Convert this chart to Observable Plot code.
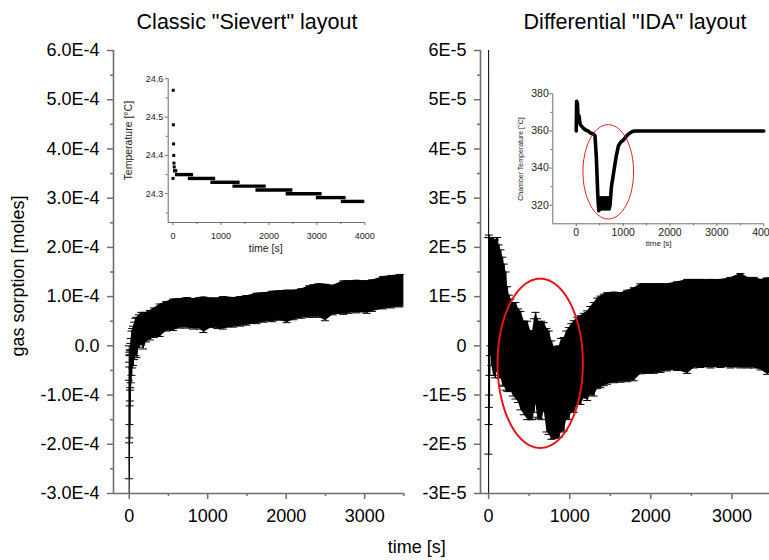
<!DOCTYPE html>
<html><head><meta charset="utf-8">
<script src="https://cdn.jsdelivr.net/npm/d3@7"></script>
<script src="https://cdn.jsdelivr.net/npm/@observablehq/plot@0.6"></script>
<style>
html,body{margin:0;padding:0;background:#fff;overflow:hidden}
#chart{position:relative;width:769px;height:560px;overflow:hidden;background:#fff;font-family:"Liberation Sans",Arial,sans-serif}
</style></head><body><div id="chart"></div>
<script>
// ---------- Data: classic "Sievert" layout (gas sorption, units of 1E-4 moles) ----------
const sievertTime  = [0,2,4,6,8,10,12,14,17,20,25,35,45,55,70,85,100,130,160,183,220,268,320,395,480,565,650,740,820,906,950,1050,1130,1200,1331,1420,1500,1629,1720,1830,1920,2012,2100,2200,2300,2352,2420,2500,2600,2734,2800,2900,3032,3100,3244,3350,3457,3500];
const sievertValue = [-1.6,-1.7,-1.3,-1.2,-1.0,-0.9,-0.7,-0.6,-0.5,-0.4,-0.3,-0.15,-0.05,0.0,0.1,0.18,0.17,0.3,0.35,0.29,0.38,0.42,0.47,0.52,0.6,0.63,0.66,0.67,0.65,0.66,0.63,0.67,0.66,0.67,0.68,0.7,0.72,0.76,0.78,0.8,0.82,0.8,0.83,0.86,0.9,0.91,0.92,0.88,0.93,0.98,0.99,1.0,0.99,1.02,1.08,1.1,1.12,1.13];
const sievertError = [1.6,1.0,0.97,0.77,0.87,0.7,0.52,0.52,0.4,0.45,0.45,0.45,0.4,0.4,0.38,0.38,0.41,0.33,0.33,0.355,0.3,0.3,0.3,0.33,0.3,0.32,0.3,0.31,0.31,0.32,0.36,0.3,0.31,0.33,0.3,0.3,0.3,0.31,0.3,0.31,0.3,0.33,0.3,0.3,0.32,0.33,0.34,0.37,0.3,0.34,0.33,0.33,0.33,0.32,0.33,0.33,0.33,0.32];

// ---------- Data: differential "IDA" layout (gas sorption, units of 1E-5 moles) ----------
const idaTime  = [0,3,6,9,12,16,22,28,40,60,85,111,130,152,175,193,215,234,255,275,305,337,370,398,440,481,520,543,565,583,604,624,655,686,720,747,780,809,840,871,900,932,963,994,1025,1056,1100,1138,1180,1221,1260,1302,1345,1385,1425,1467,1550,1631,1715,1796,1878,1960,2042,2125,2207,2330,2454,2536,2618,2740,2864,2990,3111,3200,3275,3360,3440,3500];
const idaValue = [1.5,0,0.3,0.5,0.6,0.8,1.0,1.1,0.9,0.8,0.75,0.85,0.7,0.65,0.5,0.42,0.3,0.14,0.05,0.02,-0.07,-0.1,-0.2,-0.3,-0.45,-0.5,-0.6,-0.6,-0.4,-0.25,-0.45,-0.5,-0.5,-0.43,-0.7,-0.75,-0.9,-0.95,-0.95,-0.93,-0.8,-0.78,-0.6,-0.56,-0.45,-0.42,-0.3,-0.29,-0.2,-0.2,-0.1,-0.07,0.05,0.08,0.12,0.15,0.17,0.17,0.2,0.235,0.345,0.35,0.35,0.36,0.375,0.4,0.395,0.45,0.455,0.45,0.455,0.47,0.51,0.47,0.47,0.43,0.4,0.42];
const idaError = [4.6,2.2,1.9,1.75,1.6,1.4,1.2,1.1,1.3,1.4,1.4,1.35,1.35,1.3,1.3,1.24,1.2,1.06,0.98,0.93,0.95,0.98,0.95,1.0,0.95,1.0,0.9,0.9,0.95,0.93,1.0,0.98,1.0,0.9,1.05,1.05,1.0,0.93,0.92,0.93,0.95,0.95,0.9,0.93,0.9,0.93,0.88,0.9,0.86,0.91,0.9,0.95,0.92,0.93,0.93,0.93,0.92,0.91,0.93,0.945,0.915,0.91,0.91,0.9,0.885,0.9,0.955,0.9,0.895,0.9,0.895,0.92,0.96,0.92,0.92,0.92,0.98,0.95];

// ---------- Inset data: Sievert temperature ----------
const sievertTempPointTime  = [0,5,8,12,15,20,25];
const sievertTempPointValue = [24.34,24.57,24.48,24.43,24.40,24.38,24.37];
const sievertTempBandStart = [10,50,320,790,1250,1730,2360,2990,3510];
const sievertTempBandEnd   = [100,430,890,1400,1945,2500,3110,3610,4000];
const sievertTempBandValue = [24.36,24.35,24.34,24.33,24.32,24.31,24.30,24.29,24.28];

// ---------- Inset data: IDA chamber temperature ----------
const chamberTime = [0,8,25,40,60,80,100,150,200,250,300,350,400,430,460,480,500,520,540,560,580,600,620,640,660,680,700,720,750,800,850,900,950,1000,1050,1100,1150,1200,1250,1300,1500,2000,2500,3000,3500,4000];
const chamberTemp = [360,376,375,366,368,364,363,361.5,360.5,360,359,358.5,357.5,345,325,317,318,324,318,324,318,324,318,324,318,324,318,320,330,338,346,352,354,355,356.5,358,359,359.7,360,360,360,360,360,360,360,360];

// ---------- Highlight ellipses (center, radii in data units) ----------
const idaEllipseCenter = [636, -0.355];
const idaEllipseRadius = [526, 1.72];
const chamberEllipseCenter = [683, 338];
const chamberEllipseRadius = [540, 25.4];

// ---------- Ticks ----------
const sievertYTicks  = [-3,-2,-1,0,1,2,3,4,5,6];
const sievertYLabels = ["-3.0E-4","-2.0E-4","-1.0E-4","0.0","1.0E-4","2.0E-4","3.0E-4","4.0E-4","5.0E-4","6.0E-4"];
const sievertYMinor  = [-2.5,-1.5,-0.5,0.5,1.5,2.5,3.5,4.5,5.5];
const idaYTicks  = [-3,-2,-1,0,1,2,3,4,5,6];
const idaYLabels = ["-3E-5","-2E-5","-1E-5","0","1E-5","2E-5","3E-5","4E-5","5E-5","6E-5"];
const idaYMinor  = [-2.5,-1.5,-0.5,0.5,1.5,2.5,3.5,4.5,5.5];
const mainXTicks  = [0,1000,2000,3000];
const mainXLabels = ["0","1000","2000","3000"];
const mainXMinor  = [500,1500,2500,3500];
const insetXTicks  = [0,1000,2000,3000,4000];
const insetXLabels = ["0","1000","2000","3000","4000"];
const insetXMinor  = [500,1500,2500,3500];
const sievertTempTicks  = [24.3,24.4,24.5,24.6];
const sievertTempLabels = ["24.3","24.4","24.5","24.6"];
const sievertTempMinor  = [24.25,24.35,24.45,24.55];
const chamberTicks  = [320,340,360,380];
const chamberLabels = ["320","340","360","380"];
const chamberMinor  = [330,350,370];

// ---------- Texts ----------
const titles = ['Classic "Sievert" layout', 'Differential "IDA" layout'];
const yTitle = "gas sorption [moles]";
const xTitle = "time [s]";
const insetXTitle = "time [s]";
const sievertInsetYTitle = "Temperature [°C]";
const chamberInsetYTitle = "Chamber Temperature [°C]";

// ---------- Build ----------
const FONT = '"Liberation Sans", Arial, sans-serif';
const AXIS = "#6e6e6e";
const chart = document.getElementById("chart");
const fmt = (ticks, labels) => d => labels[ticks.indexOf(d)];
function place(svg, left, top) {
  svg.style.position = "absolute";
  svg.style.left = left + "px";
  svg.style.top = top + "px";
  svg.style.background = "transparent";
  svg.style.maxWidth = "none";
  svg.style.overflow = "visible";
  chart.appendChild(svg);
}
function ellipse(c, r) {
  return d3.range(0, 361, 3).map(a => ({x: c[0] + r[0] * Math.cos(a * Math.PI / 180), y: c[1] + r[1] * Math.sin(a * Math.PI / 180)}));
}
const toBars = (T, V, E) => T.map((t, i) => ({t, v: V[i], lo: V[i] - E[i], hi: V[i] + E[i]}));

function errorMarks(data) {
  return [
    Plot.areaY(data, {x: "t", y1: "lo", y2: "hi", fill: "black", clip: true}),
    Plot.ruleX(data, {x: "t", y1: "lo", y2: "hi", stroke: "black", strokeWidth: 1, clip: true}),
    Plot.ruleY(data, {y: "hi", x1: "t", x2: "t", insetLeft: -4, insetRight: -4, stroke: "black", strokeWidth: 1, clip: true}),
    Plot.ruleY(data, {y: "lo", x1: "t", x2: "t", insetLeft: -4, insetRight: -4, stroke: "black", strokeWidth: 1, clip: true})
  ];
}
function mainAxes(yT, yL, yM, xmin, ymin) {
  return [
    Plot.axisY(yT, {tickFormat: fmt(yT, yL), tickSize: 6, tickPadding: 8, fontSize: 18, stroke: AXIS, strokeWidth: 1.5, color: "black", label: null}),
    Plot.axisY(yM, {tickSize: 3, fill: "none", stroke: AXIS, strokeWidth: 1.5, label: null}),
    Plot.axisX(mainXTicks, {tickFormat: fmt(mainXTicks, mainXLabels), tickSize: 6, tickPadding: 10, fontSize: 18, stroke: AXIS, strokeWidth: 1.5, color: "black", label: null}),
    Plot.axisX(mainXMinor, {tickSize: 3, fill: "none", stroke: AXIS, strokeWidth: 1.5, label: null}),
    Plot.ruleX([xmin], {stroke: AXIS, strokeWidth: 1.6}),
    Plot.ruleY([ymin], {stroke: AXIS, strokeWidth: 1.6})
  ];
}

// Left main panel
place(Plot.plot({
  width: 420, height: 540, marginLeft: 113, marginRight: 16.6, marginTop: 50, marginBottom: 47,
  x: {domain: [-200, 3500]}, y: {domain: [-3, 6]},
  style: {fontFamily: FONT, color: "black"},
  marks: [
    ...errorMarks(toBars(sievertTime, sievertValue, sievertError)),
    ...mainAxes(sievertYTicks, sievertYLabels, sievertYMinor, -200, -3)
  ]
}), 0, 0);

// Right main panel
place(Plot.plot({
  width: 390, height: 540, marginLeft: 80, marginRight: 18, marginTop: 50, marginBottom: 47,
  x: {domain: [-100, 3500]}, y: {domain: [-3, 6]},
  style: {fontFamily: FONT, color: "black"},
  marks: [
    ...errorMarks(toBars(idaTime, idaValue, idaError)),
    Plot.line(ellipse(idaEllipseCenter, idaEllipseRadius), {x: "x", y: "y", stroke: "#e8141c", strokeWidth: 2}),
    ...mainAxes(idaYTicks, idaYLabels, idaYMinor, -100, -3)
  ]
}), 400, 0);

// Left inset
const sievertPts = sievertTempPointTime.map((t, i) => ({t, v: sievertTempPointValue[i]}));
const sievertBands = sievertTempBandStart.map((s, i) => ({s, e: sievertTempBandEnd[i], v: sievertTempBandValue[i]}));
place(Plot.plot({
  width: 260, height: 200, marginLeft: 47.7, marginRight: 15.7, marginTop: 18.3, marginBottom: 38,
  x: {domain: [-100, 4000]}, y: {domain: [24.225, 24.6]},
  style: {fontFamily: FONT, color: "black"},
  marks: [
    Plot.ruleY(sievertBands, {y: "v", x1: "s", x2: "e", stroke: "black", strokeWidth: 3.4}),
    Plot.dot(sievertPts, {x: "t", y: "v", symbol: "square", r: 1.7, fill: "black", stroke: "none"}),
    Plot.axisY(sievertTempTicks, {tickFormat: fmt(sievertTempTicks, sievertTempLabels), tickSize: 3, tickPadding: 2, fontSize: 9, stroke: AXIS, color: "#222", label: null}),
    Plot.axisY(sievertTempMinor, {tickSize: 2, fill: "none", stroke: AXIS, label: null}),
    Plot.axisX(insetXTicks, {tickFormat: fmt(insetXTicks, insetXLabels), tickSize: 3, tickPadding: 7, fontSize: 9, stroke: AXIS, color: "#222", label: null}),
    Plot.axisX(insetXMinor, {tickSize: 2, fill: "none", stroke: AXIS, label: null}),
    Plot.ruleX([-100], {stroke: AXIS}),
    Plot.ruleY([24.225], {stroke: AXIS})
  ]
}), 120, 60);

// Right inset
const chamber = chamberTime.map((t, i) => ({t, v: chamberTemp[i]}));
place(Plot.plot({
  width: 280, height: 190, marginLeft: 52.3, marginRight: 16.7, marginTop: 23.3, marginBottom: 36.7,
  x: {domain: [-500, 4000]}, y: {domain: [310, 380]},
  style: {fontFamily: FONT, color: "black"},
  marks: [
    Plot.line(chamber, {x: "t", y: "v", stroke: "black", strokeWidth: 3.6, strokeLinejoin: "round"}),
    Plot.line(ellipse(chamberEllipseCenter, chamberEllipseRadius), {x: "x", y: "y", stroke: "#e8141c", strokeWidth: 1}),
    Plot.axisY(chamberTicks, {tickFormat: fmt(chamberTicks, chamberLabels), tickSize: 3, tickPadding: 1, fontSize: 10.5, stroke: AXIS, color: "#222", label: null}),
    Plot.axisY(chamberMinor, {tickSize: 2, fill: "none", stroke: AXIS, label: null}),
    Plot.axisX(insetXTicks, {tickFormat: fmt(insetXTicks, insetXLabels), tickSize: 3, tickPadding: 2, fontSize: 10.5, stroke: AXIS, color: "#222", label: null}),
    Plot.axisX(insetXMinor, {tickSize: 2, fill: "none", stroke: AXIS, label: null}),
    Plot.ruleX([-500], {stroke: AXIS}),
    Plot.ruleY([310], {stroke: AXIS})
  ]
}), 500, 70);

// Text overlay
const ns = "http://www.w3.org/2000/svg";
const ov = document.createElementNS(ns, "svg");
ov.setAttribute("width", 769); ov.setAttribute("height", 560);
ov.style.position = "absolute"; ov.style.left = "0px"; ov.style.top = "0px";
ov.style.fontFamily = FONT;
function addText(str, x, y, size, rotate, fill) {
  const t = document.createElementNS(ns, "text");
  t.textContent = str;
  t.setAttribute("text-anchor", "middle");
  t.setAttribute("font-size", size);
  t.setAttribute("fill", fill || "black");
  if (rotate) t.setAttribute("transform", `translate(${x},${y}) rotate(-90)`);
  else { t.setAttribute("x", x); t.setAttribute("y", y); }
  ov.appendChild(t);
}
addText(titles[0], 247, 29, 21.5);
addText(titles[1], 635, 29, 21.5);
addText(yTitle, 24, 276, 18, true);
addText(xTitle, 416.7, 553, 18);
addText(insetXTitle, 265.7, 251.5, 10.5, false, "#222");
addText(sievertInsetYTitle, 132, 140.7, 10.5, true, "#222");
addText(insetXTitle, 658.7, 246, 8, false, "#222");
addText(chamberInsetYTitle, 523, 159, 7, true, "#222");
chart.appendChild(ov);
</script></body></html>
